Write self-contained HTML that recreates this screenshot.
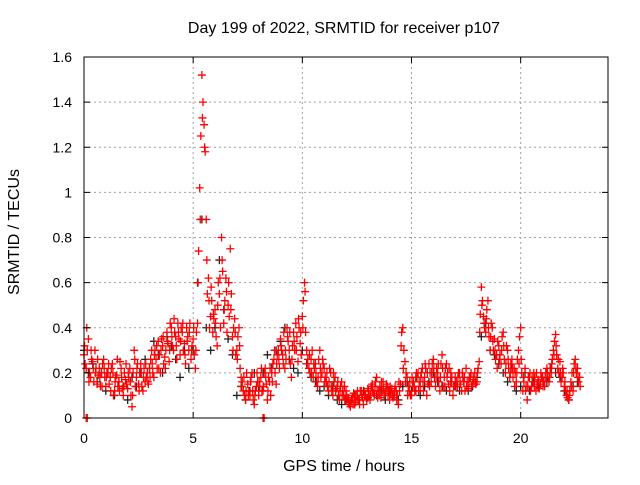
<!DOCTYPE html>
<html><head><meta charset="utf-8"><style>
body{margin:0;background:#fff}
svg text{font-family:"Liberation Sans",sans-serif;font-size:14px;fill:#000}
svg text.big{font-size:16px}
</style></head><body>
<svg id="chart" width="640" height="480" xmlns="http://www.w3.org/2000/svg">
<rect width="640" height="480" fill="#fff"/>
<text class="big" x="344" y="33" text-anchor="middle">Day 199 of 2022, SRMTID for receiver p107</text>
<text class="big" transform="translate(19,232) rotate(-90)" text-anchor="middle">SRMTID / TECUs</text>
<text class="big" x="344" y="471" text-anchor="middle">GPS time / hours</text>
<g id="grid"></g><g id="marks"></g><g id="axes"></g>
</svg>
<script>
const xTicks=[0,5,10,15,20];
const yTicks=[0,0.2,0.4,0.6,0.8,1,1.2,1.4,1.6];
const yTickLabels=["0","0.2","0.4","0.6","0.8","1","1.2","1.4","1.6"];
const redStart=0, redStep=0.1;
const redValues=[
0.28,0.22,0.35,0.18,0.25,0.30,0.15,0.22,0.20,0.26,
0.14,0.20,0.18,0.24,0.12,0.19,0.16,0.22,0.10,0.17,
0.13,0.22,0.05,0.30,0.18,0.15,0.24,0.12,0.16,0.20,
0.22,0.30,0.18,0.26,0.34,0.20,0.32,0.27,0.38,0.25,
0.40,0.30,0.36,0.42,0.28,0.38,0.33,0.40,0.30,0.26,
0.35,0.22,0.42,1.02,1.52,1.30,0.88,0.62,0.45,0.38,
0.48,0.32,0.55,0.80,0.42,0.62,0.50,0.75,0.36,0.44,
0.30,0.40,0.18,0.12,0.08,0.15,0.10,0.20,0.06,0.14,
0.10,0.18,0.12,0.22,0.08,0.16,0.20,0.26,0.15,0.30,
0.35,0.28,0.22,0.40,0.30,0.18,0.38,0.42,0.25,0.33,
0.45,0.60,0.30,0.22,0.26,0.18,0.24,0.14,0.30,0.20,
0.22,0.16,0.12,0.20,0.10,0.18,0.14,0.08,0.16,0.10,
0.12,0.07,0.05,0.09,0.06,0.10,0.08,0.12,0.06,0.10,
0.13,0.08,0.15,0.10,0.18,0.12,0.09,0.16,0.11,0.14,
0.08,0.13,0.10,0.12,0.06,0.15,0.40,0.25,0.18,0.12,
0.10,0.16,0.12,0.20,0.14,0.22,0.18,0.10,0.24,0.16,
0.26,0.14,0.20,0.12,0.28,0.18,0.24,0.15,0.20,0.10,
0.18,0.14,0.20,0.12,0.16,0.22,0.13,0.18,0.15,0.20,
0.16,0.25,0.58,0.45,0.38,0.52,0.30,0.40,0.35,0.28,
0.32,0.24,0.38,0.20,0.30,0.18,0.26,0.22,0.16,0.30,
0.40,0.12,0.22,0.08,0.18,0.14,0.20,0.12,0.17,0.15,
0.18,0.14,0.22,0.16,0.20,0.30,0.37,0.22,0.25,0.18,
0.14,0.10,0.08,0.16,0.12,0.26,0.22,0.18];
const redBStart=0.05, redBStep=0.1;
const redBValues=[
0.24,0.30,0.20,0.26,0.16,0.22,0.19,0.14,0.24,0.18,
0.20,0.15,0.22,0.10,0.18,0.14,0.25,0.13,0.20,0.15,
0.18,0.10,0.20,0.14,0.24,0.20,0.14,0.22,0.18,0.15,
0.26,0.20,0.30,0.22,0.28,0.35,0.24,0.30,0.33,0.42,
0.32,0.38,0.26,0.35,0.40,0.30,0.24,0.36,0.42,0.32,
0.28,0.38,0.74,1.25,1.40,1.18,0.55,0.40,0.52,0.44,
0.36,0.60,0.40,0.65,0.52,0.38,0.45,0.55,0.40,0.28,
0.36,0.22,0.16,0.10,0.20,0.12,0.18,0.08,0.12,0.16,
0.14,0.12,0.20,0.15,0.18,0.10,0.24,0.20,0.28,0.22,
0.30,0.38,0.26,0.34,0.24,0.32,0.30,0.36,0.40,0.28,
0.52,0.38,0.26,0.20,0.30,0.22,0.16,0.26,0.18,0.24,
0.18,0.14,0.22,0.12,0.16,0.13,0.10,0.14,0.12,0.08,
0.09,0.06,0.08,0.11,0.07,0.08,0.12,0.09,0.10,0.08,
0.10,0.14,0.11,0.16,0.09,0.14,0.12,0.10,0.15,0.12,
0.11,0.09,0.14,0.10,0.12,0.38,0.30,0.20,0.14,0.10,
0.14,0.12,0.18,0.16,0.20,0.12,0.22,0.15,0.20,0.24,
0.18,0.22,0.16,0.24,0.14,0.22,0.20,0.12,0.18,0.14,
0.16,0.20,0.15,0.18,0.12,0.16,0.18,0.14,0.17,0.15,
0.22,0.46,0.52,0.40,0.48,0.36,0.42,0.30,0.26,0.34,
0.28,0.36,0.26,0.32,0.22,0.24,0.18,0.20,0.26,0.36,
0.20,0.16,0.14,0.18,0.12,0.16,0.18,0.15,0.13,0.18,
0.16,0.20,0.18,0.22,0.26,0.34,0.28,0.20,0.16,0.20,
0.12,0.09,0.12,0.20,0.24,0.20,0.16];
const redCStart=0.025, redCStep=0.1;
const redCValues=[
0.32,0.40,0.16,0.30,0.22,0.20,0.26,0.18,0.14,0.22,
0.18,0.24,0.12,0.20,0.16,0.26,0.12,0.18,0.14,0.24,
0.20,0.16,0.10,0.26,0.22,0.12,0.20,0.18,0.24,0.16,
0.18,0.24,0.28,0.32,0.22,0.30,0.36,0.22,0.34,0.30,
0.36,0.44,0.32,0.38,0.34,0.42,0.28,0.34,0.38,0.30,
0.40,0.30,0.60,0.88,1.33,1.20,0.70,0.52,0.58,0.46,
0.42,0.50,0.62,0.70,0.48,0.56,0.60,0.48,0.30,0.38,
0.26,0.32,0.14,0.18,0.12,0.10,0.16,0.12,0.10,0.20,
0.16,0.22,0.14,0.18,0.12,0.22,0.16,0.30,0.24,0.26,
0.32,0.24,0.30,0.36,0.38,0.26,0.34,0.30,0.44,0.38,
0.40,0.56,0.24,0.28,0.20,0.24,0.20,0.18,0.22,0.26,
0.16,0.20,0.16,0.14,0.20,0.12,0.16,0.12,0.10,0.14,
0.10,0.09,0.07,0.06,0.10,0.12,0.06,0.10,0.12,0.09,
0.12,0.10,0.12,0.14,0.12,0.10,0.16,0.13,0.12,0.10,
0.14,0.10,0.12,0.08,0.16,0.32,0.22,0.16,0.10,0.16,
0.18,0.14,0.20,0.12,0.18,0.16,0.24,0.20,0.14,0.20,
0.22,0.18,0.24,0.18,0.22,0.14,0.18,0.22,0.16,0.14,
0.14,0.18,0.16,0.20,0.18,0.14,0.16,0.20,0.18,0.16,
0.20,0.38,0.50,0.42,0.44,0.40,0.36,0.34,0.30,0.22,
0.26,0.30,0.32,0.24,0.26,0.20,0.22,0.14,0.20,0.24,
0.26,0.18,0.12,0.14,0.20,0.18,0.14,0.20,0.16,0.20,
0.14,0.18,0.20,0.18,0.24,0.28,0.32,0.26,0.20,0.22,
0.16,0.12,0.10,0.14,0.20,0.22,0.18,0.14];
const blackStart=0, blackStep=0.2;
const blackValues=[
0.30,0.20,0.24,0.16,0.20,0.12,0.18,0.10,0.16,0.14,
0.08,0.18,0.14,0.20,0.26,0.22,0.34,0.28,0.20,0.36,
0.32,0.26,0.18,0.30,0.22,0.30,0.60,0.88,0.40,0.30,
0.40,0.70,0.48,0.35,0.28,0.10,0.14,0.08,0.12,0.20,
0.12,0.20,0.28,0.22,0.30,0.34,0.40,0.26,0.22,0.20,
0.30,0.24,0.18,0.16,0.12,0.14,0.10,0.14,0.08,0.06,
0.08,0.06,0.10,0.08,0.12,0.09,0.14,0.10,0.12,0.08,
0.12,0.10,0.08,0.14,0.16,0.12,0.18,0.10,0.14,0.16,
0.20,0.16,0.14,0.12,0.16,0.14,0.12,0.16,0.12,0.14,
0.18,0.36,0.42,0.30,0.28,0.24,0.20,0.16,0.22,0.12,
0.14,0.20,0.12,0.16,0.14,0.18,0.16,0.22,0.20,0.18,
0.12,0.08,0.14,0.16];
const zeroTimes=[0.1,0.15,8.2,8.25];
const zeroValues=[0,0,0,0];

const L=84,R=608,T=57,B=418,XMAX=24,YMAX=1.6;
const xs=t=>L+(R-L)*t/XMAX;
const ys=v=>B-(B-T)*v/YMAX;
const NS="http://www.w3.org/2000/svg";
function mk(tag,parent,attrs){const e=document.createElementNS(NS,tag);for(const k in attrs)e.setAttribute(k,attrs[k]);parent.appendChild(e);return e;}
const grid=document.getElementById('grid'),axes=document.getElementById('axes'),marks=document.getElementById('marks');
yTicks.forEach((v,i)=>{
  if(v>0&&v<YMAX){const g=mk('line',grid,{x1:L,x2:R,y1:ys(v),y2:ys(v),stroke:'#a0a0a0','stroke-dasharray':'2,3'});
  
  }
  mk('line',axes,{x1:L,x2:L+6,y1:ys(v),y2:ys(v),stroke:'#000'});
  mk('line',axes,{x1:R,x2:R-6,y1:ys(v),y2:ys(v),stroke:'#000'});
  const t=mk('text',axes,{x:L-12,y:ys(v)+5,'text-anchor':'end'});t.textContent=yTickLabels[i];
  
  
});
xTicks.forEach(v=>{
  if(v>0){const g=mk('line',grid,{x1:xs(v),x2:xs(v),y1:T,y2:B,stroke:'#a0a0a0','stroke-dasharray':'2,3'});
  
  }
  mk('line',axes,{x1:xs(v),x2:xs(v),y1:B,y2:B-6,stroke:'#000'});
  mk('line',axes,{x1:xs(v),x2:xs(v),y1:T,y2:T+6,stroke:'#000'});
  const t=mk('text',axes,{x:xs(v),y:B+25,'text-anchor':'middle'});t.textContent=String(v);
  
  
});
const frame=mk('rect',axes,{x:L,y:T,width:R-L,height:B-T,fill:'none',stroke:'#000'});


function plus(t,v,color,name){
  const x=xs(t),y=ys(v);
  const p=mk('path',marks,{d:`M${x-4},${y}H${x+4}M${x},${y-4}V${y+4}`,stroke:color,'stroke-width':1.3,fill:'none'});
  
  
}
blackValues.forEach((v,i)=>plus(blackStart+i*blackStep,v,'#222','black-point'));
redValues.forEach((v,i)=>plus(redStart+i*redStep,v,'#f00','red-point'));
redBValues.forEach((v,i)=>plus(redBStart+i*redBStep,v,'#f00','red-point'));
redCValues.forEach((v,i)=>plus(redCStart+i*redCStep,v,'#f00','red-point'));
zeroTimes.forEach((t,i)=>plus(t,zeroValues[i],'#f00','red-point'));
</script>
</body></html>
